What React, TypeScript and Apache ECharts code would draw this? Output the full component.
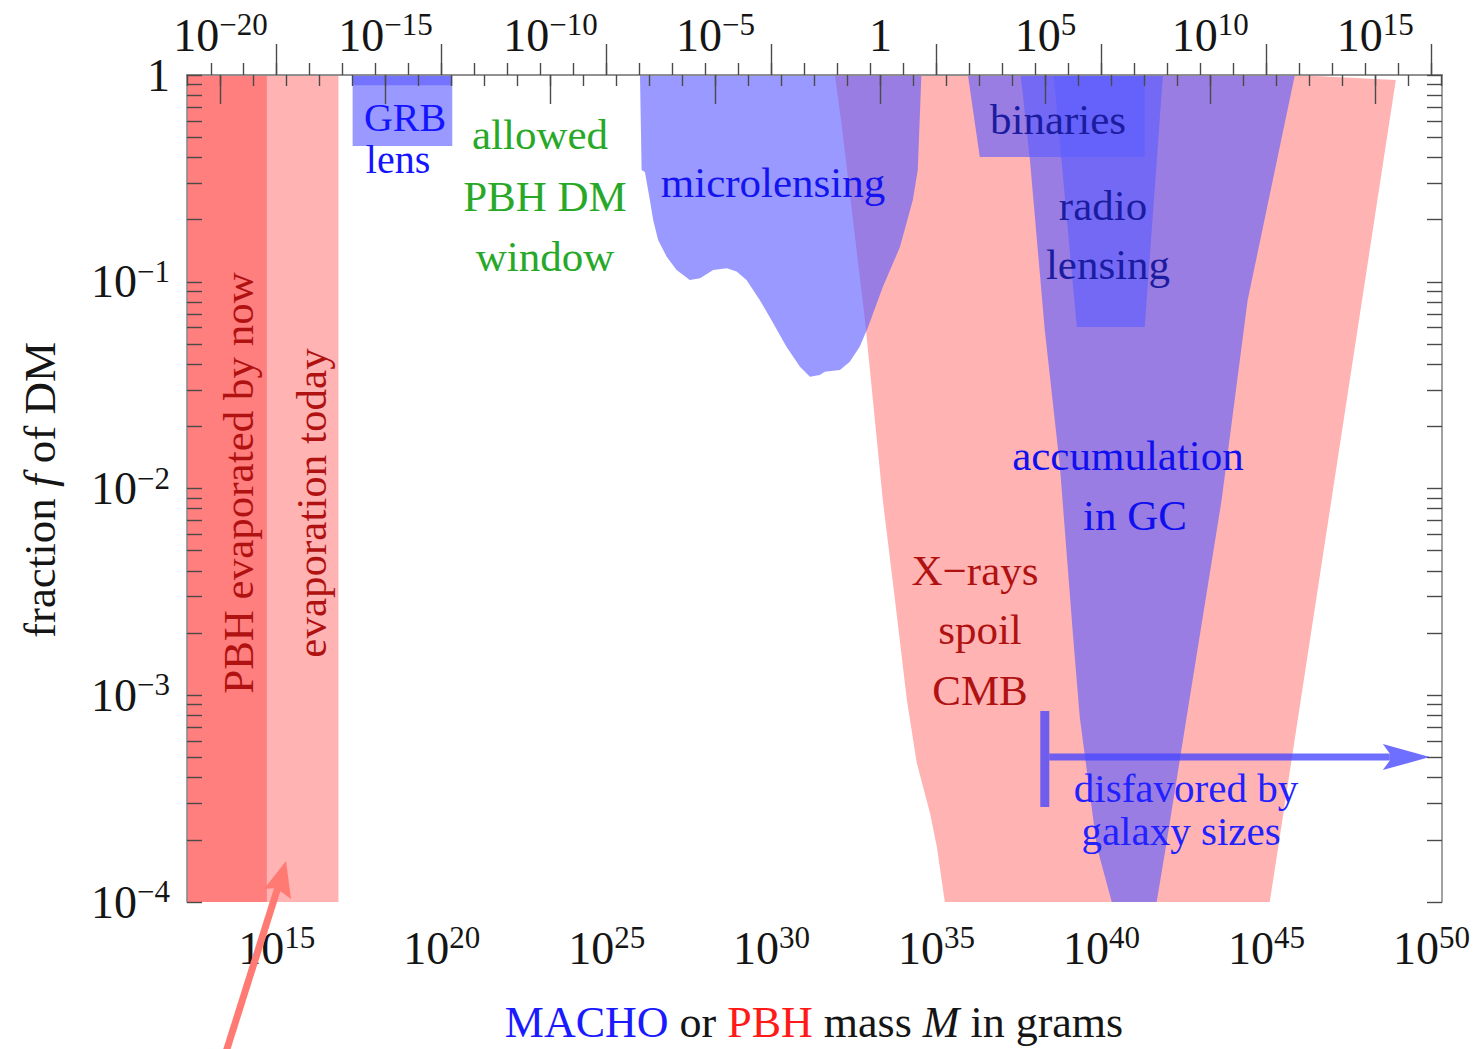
import React, { useEffect, useRef } from 'react';
import * as echarts from 'echarts';

const FONT = '"Liberation Serif", "Times New Roman", Times, serif';

// axis extents: log10(M / grams) and log10(f)
const xExtent = [12.28, 50.32];
const yExtent = [-4, 0];
const logSolarMass = 33.2986;

// tick values
const bottomMajorExponents = [15, 20, 25, 30, 35, 40, 45, 50];
const bottomMinorExponents = [13, 14, 15, 16, 17, 18, 19, 20, 21, 22, 23, 24, 25, 26, 27, 28, 29, 30, 31, 32, 33, 34, 35, 36, 37, 38, 39, 40, 41, 42, 43, 44, 45, 46, 47, 48, 49, 50];
const topMajorExponents = [-20, -15, -10, -5, 0, 5, 10, 15];
const topMinorExponents = [-21, -20, -19, -18, -17, -16, -15, -14, -13, -12, -11, -10, -9, -8, -7, -6, -5, -4, -3, -2, -1, 0, 1, 2, 3, 4, 5, 6, 7, 8, 9, 10, 11, 12, 13, 14, 15, 16, 17];
const yMajorExponents = [-4, -3, -2, -1, 0];
const yMantissas = [1, 2, 3, 4, 5, 6, 7, 8, 9];

// regions, [log10 M, log10 f]
const evaporatedByNow = [[12.28, 0], [14.7, 0], [14.7, -4], [12.28, -4]];
const evaporationToday = [[12.28, 0], [16.87, 0], [16.87, -4], [12.28, -4]];
const xRaysCMB = [
  [31.92, 0], [32.13, -0.252], [32.37, -0.571], [32.61, -0.895], [32.83, -1.185], [33.07, -1.572],
  [33.37, -2.056], [33.74, -2.539], [34.1, -3.023], [34.4, -3.328], [34.8, -3.57], [35.01, -3.734],
  [35.25, -4.0], [45.1, -4.0], [48.92, -0.024], [45.86, 0],
];
const microlensing = [
  [26.01, 0], [34.54, 0], [34.43, -0.46], [34.28, -0.605], [33.89, -0.832], [33.37, -1.025],
  [32.93, -1.217], [32.67, -1.314], [32.37, -1.387], [32.07, -1.427], [31.61, -1.435], [31.46, -1.451],
  [31.16, -1.459], [30.86, -1.411], [30.45, -1.314], [30.05, -1.201], [29.64, -1.088], [29.24, -0.992],
  [28.94, -0.951], [28.64, -0.935], [28.23, -0.943], [27.83, -0.983], [27.52, -0.992], [27.12, -0.943],
  [26.82, -0.879], [26.56, -0.798], [26.41, -0.701], [26.31, -0.605], [26.16, -0.469], [26.06, -0.46],
];
const grbLens = [[17.3, 0], [20.32, 0], [20.32, -0.343], [17.3, -0.343]];
const grbLensTop = [[17.3, 0], [20.32, 0], [20.32, -0.05], [17.3, -0.05]];
const gcAccumulation = [
  [37.55, 0], [37.83, -0.411], [38.28, -1.233], [38.74, -1.896], [39.13, -2.699], [39.34, -3.105],
  [39.86, -3.734], [40.31, -4], [41.67, -4], [41.95, -3.734], [42.58, -3.105], [43.64, -2.056],
  [44.43, -1.088], [45.86, 0],
];
const radioLensing = [[38.55, 0], [41.86, 0], [41.31, -1.219], [39.25, -1.219]];
const binaries = [[35.95, 0], [41.31, 0], [41.31, -0.397], [36.31, -0.397]];
const galaxySizesArrow = [[38.28, -3.299], [49.95, -3.299]];
const galaxySizesBar = [[38.28, -3.076], [38.28, -3.541]];

const BLUE_LAYER = 'rgba(93,93,255,0.63)';
const AXIS_COLOR = '#8a8a8a';
const TICK_COLOR = '#4a4a4a';

const labelRich = {
  b: { fontFamily: FONT, fontSize: 46, color: '#151515', lineHeight: 52 },
  s: { fontFamily: FONT, fontSize: 31, color: '#151515', verticalAlign: 'top' },
};

function supLabel(e: number): string {
  if (e === 0) return '{b|1}';
  const s = e < 0 ? '\u2212' + -e : String(e);
  return '{b|10}{s|' + s + '}';
}

function polygonSeries(name: string, pts: number[][], fill: string) {
  return {
    type: 'custom',
    name,
    xAxisIndex: 0,
    yAxisIndex: 0,
    silent: true,
    data: [pts[0]],
    renderItem: (_p: any, api: any) => ({
      type: 'polygon',
      shape: { points: pts.map((p) => api.coord(p)) },
      style: { fill },
    }),
  };
}

function txt(
  text: string,
  x: number,
  y: number,
  fill: string,
  size = 43,
  rotation = 0,
  rich?: any,
  align = 'center',
) {
  return {
    type: 'text',
    x,
    y,
    rotation,
    silent: true,
    z: 100,
    style: {
      text,
      fill,
      font: `${size}px ${FONT}`,
      textAlign: align,
      textVerticalAlign: 'middle',
      align,
      verticalAlign: 'middle',
      rich,
    },
  };
}

export default function App() {
  const ref = useRef<HTMLDivElement>(null);

  useEffect(() => {
    if (!ref.current) return;
    const chart = echarts.init(ref.current, null, { renderer: 'svg' });

    const yTicks: number[] = [];
    yMajorExponents.slice(0, 4).forEach((n) => yMantissas.forEach((k) => yTicks.push(n + Math.log10(k))));
    yTicks.push(0);

    const topMajor = topMajorExponents.map((e) => e + logSolarMass);
    const topMinor = topMinorExponents.map((e) => e + logSolarMass);

    const baseX = {
      type: 'value',
      min: xExtent[0],
      max: xExtent[1],
      splitLine: { show: false },
      z: 10,
    };
    const baseY = {
      type: 'value',
      min: yExtent[0],
      max: yExtent[1],
      splitLine: { show: false },
      z: 10,
    };

    const blueArrow = 'rgba(70,70,255,0.78)';

    const option: any = {
      animation: false,
      backgroundColor: '#ffffff',
      grid: { left: 187, right: 32, top: 75, bottom: 147, containLabel: false, outerBoundsMode: 'none' },
      xAxis: [
        {
          ...baseX,
          position: 'bottom',
          axisLine: { show: true, lineStyle: { color: AXIS_COLOR, width: 1.6 } },
          axisTick: { show: true, inside: true, length: 31, customValues: bottomMajorExponents, lineStyle: { color: TICK_COLOR, width: 1.4 } },
          axisLabel: {
            show: true,
            customValues: bottomMajorExponents,
            margin: 20,
            formatter: (v: number) => supLabel(Math.round(v)),
            rich: labelRich,
          },
        },
        {
          ...baseX,
          position: 'bottom',
          axisLine: { show: false },
          axisTick: { show: true, inside: true, length: 12, customValues: bottomMinorExponents, lineStyle: { color: TICK_COLOR, width: 1.4 } },
          axisLabel: { show: false },
        },
        {
          ...baseX,
          position: 'top',
          axisLine: { show: true, lineStyle: { color: AXIS_COLOR, width: 1.6 } },
          axisTick: { show: true, inside: true, length: 29, customValues: topMajor, lineStyle: { color: TICK_COLOR, width: 1.4 } },
          axisLabel: {
            show: true,
            customValues: topMajor,
            margin: 14,
            formatter: (v: number) => supLabel(Math.round(v - logSolarMass)),
            rich: labelRich,
          },
        },
        {
          ...baseX,
          position: 'top',
          axisLine: { show: false },
          axisTick: { show: true, inside: true, length: 11, customValues: topMinor, lineStyle: { color: TICK_COLOR, width: 1.4 } },
          axisLabel: { show: false },
        },
      ],
      yAxis: [
        {
          ...baseY,
          position: 'left',
          axisLine: { show: true, lineStyle: { color: AXIS_COLOR, width: 1.6 } },
          axisTick: { show: true, inside: true, length: 15, customValues: yTicks, lineStyle: { color: TICK_COLOR, width: 1.4 } },
          axisLabel: {
            show: true,
            customValues: yMajorExponents,
            margin: 17,
            formatter: (v: number) => supLabel(Math.round(v)),
            rich: labelRich,
          },
        },
        {
          ...baseY,
          position: 'right',
          axisLine: { show: true, lineStyle: { color: AXIS_COLOR, width: 1.6 } },
          axisTick: { show: true, inside: true, length: 15, customValues: yTicks, lineStyle: { color: TICK_COLOR, width: 1.4 } },
          axisLabel: { show: false },
        },
      ],
      series: [
        polygonSeries('evaporation today', evaporationToday, '#ffb3b3'),
        polygonSeries('PBH evaporated by now', evaporatedByNow, '#ff7e7e'),
        polygonSeries('X-rays spoil CMB', xRaysCMB, '#ffb3b3'),
        polygonSeries('microlensing', microlensing, BLUE_LAYER),
        polygonSeries('accumulation in GC', gcAccumulation, BLUE_LAYER),
        polygonSeries('radio lensing', radioLensing, BLUE_LAYER),
        polygonSeries('binaries', binaries, BLUE_LAYER),
        polygonSeries('GRB lens', grbLens, BLUE_LAYER),
        polygonSeries('GRB lens top', grbLensTop, BLUE_LAYER),
        {
          type: 'custom',
          name: 'disfavored by galaxy sizes',
          xAxisIndex: 0,
          yAxisIndex: 0,
          silent: true,
          data: [galaxySizesArrow[0]],
          renderItem: (_p: any, api: any) => {
            const a0 = api.coord(galaxySizesArrow[0]);
            const a1 = api.coord(galaxySizesArrow[1]);
            const b0 = api.coord(galaxySizesBar[0]);
            const b1 = api.coord(galaxySizesBar[1]);
            return {
              type: 'group',
              children: [
                { type: 'line', shape: { x1: b0[0], y1: b0[1], x2: b1[0], y2: b1[1] }, style: { stroke: blueArrow, lineWidth: 9 } },
                { type: 'line', shape: { x1: a0[0] + 4.5, y1: a0[1], x2: a1[0] - 40, y2: a1[1] }, style: { stroke: blueArrow, lineWidth: 7 } },
                {
                  type: 'polygon',
                  shape: { points: [[a1[0], a1[1]], [a1[0] - 47, a1[1] - 13], [a1[0] - 40, a1[1] - 3.5], [a1[0] - 40, a1[1] + 3.5], [a1[0] - 47, a1[1] + 13]] },
                  style: { fill: blueArrow },
                },
              ],
            };
          },
        },
      ],
      graphic: [
        txt('GRB', 405, 117, '#1414ff', 40),
        txt('lens', 398, 159, '#1414ff', 40),
        txt('allowed', 540, 134, '#28a828'),
        txt('PBH DM', 545, 196, '#28a828'),
        txt('window', 545, 256, '#28a828'),
        txt('microlensing', 773, 182, '#1414ee'),
        txt('binaries', 1058, 119, '#1c1ca0'),
        txt('radio', 1103, 205, '#1c1ca0'),
        txt('lensing', 1108, 264, '#1c1ca0'),
        txt('accumulation', 1128, 455, '#1010ee'),
        txt('in GC', 1135, 515, '#1010ee'),
        txt('X\u2212rays', 975, 570, '#b01212'),
        txt('spoil', 980, 629, '#b01212'),
        txt('CMB', 980, 690, '#b01212'),
        txt('disfavored by', 1186, 788, '#2222ff', 41),
        txt('galaxy sizes', 1181, 831, '#2222ff', 41),
        txt('PBH evaporated by now', 238, 483, '#b01212', 43, Math.PI / 2),
        txt('evaporation today', 311, 503, '#b01212', 43, Math.PI / 2),
        txt('fraction {i|f} of DM', 40, 490, '#151515', 45, Math.PI / 2, {
          i: { font: `italic 45px ${FONT}`, fill: '#151515', color: '#151515' },
        }),
        txt('{b|MACHO} or {r|PBH} mass {i|M} in grams', 814, 1022, '#151515', 44, 0, {
          b: { font: `44px ${FONT}`, fill: '#1a1aff', color: '#1a1aff' },
          r: { font: `44px ${FONT}`, fill: '#ff1a1a', color: '#ff1a1a' },
          i: { font: `italic 44px ${FONT}`, fill: '#151515', color: '#151515' },
        }),
        // red pointer arrow below the axis
        {
          type: 'line',
          silent: true,
          z: 100,
          shape: { x1: 226, y1: 1052, x2: 279, y2: 884 },
          style: { stroke: '#ff7a72', lineWidth: 7 },
        },
        {
          type: 'polygon',
          silent: true,
          z: 100,
          shape: { points: [[286, 861], [264, 889], [276, 888], [291, 899]] },
          style: { fill: '#ff7a72' },
        },
      ],
    };

    chart.setOption(option);
    return () => chart.dispose();
  }, []);

  return (
    <div
      ref={ref}
      style={{ position: 'fixed', left: 0, top: 0, width: 1474, height: 1049, background: '#fff' }}
    />
  );
}
